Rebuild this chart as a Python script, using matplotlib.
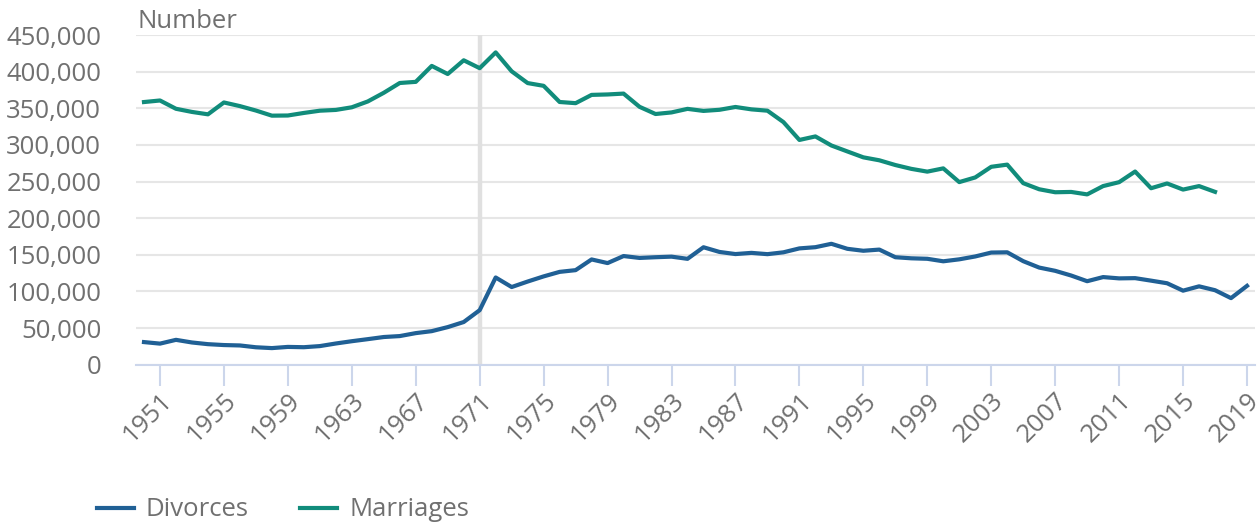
import matplotlib
matplotlib.use("Agg")
import matplotlib.pyplot as plt
import matplotlib.transforms as mtransforms
from matplotlib.ticker import FuncFormatter, FixedLocator
from matplotlib.lines import Line2D

plt.rcParams['font.family'] = ['Open Sans', 'DejaVu Sans']

years_div = list(range(1950, 2020))
divorces = [30870, 28767, 33922, 30326, 28027, 26816, 26265, 23785, 22654, 24286,
            23868, 25394, 28935, 32052, 34868, 37785, 39067, 43093, 45794, 51310,
            58239, 74437, 119025, 106003, 113500, 120522, 126694, 129053, 143667, 138706,
            148301, 145713, 146698, 147479, 144501, 160300, 153903, 151007, 152633, 150872,
            153386, 158745, 160385, 165018, 158175, 155499, 157107, 146689, 145214, 144556,
            141135, 143818, 147735, 153065, 153399, 141322, 132562, 128131, 121708, 113949,
            119589, 117813, 118140, 114720, 111169, 101055, 106959, 101669, 90871, 107599]

years_mar = list(range(1950, 2018))
marriages = [358490, 360624, 349308, 344997, 341731, 357918, 352944, 346903, 339913, 340126,
             343614, 346678, 347732, 351329, 359307, 371127, 384497, 386052, 407822, 396746,
             415487, 404737, 426241, 400435, 384389, 380620, 358567, 356954, 368258, 368853,
             370022, 351973, 342166, 344334, 349186, 346389, 347924, 351761, 348492, 346697,
             331150, 306756, 311564, 299197, 291069, 283012, 278975, 272536, 267303, 263515,
             267961, 249227, 255596, 270109, 273069, 247805, 239454, 235367, 235794, 232443,
             243808, 249133, 263640, 240854, 247372, 239020, 243792, 235910]

tick_years = list(range(1951, 2020, 4))
y_ticks = list(range(0, 450001, 50000))
highlight_year = 1971

div_color = "#206095"
mar_color = "#118c7b"
text_color = "#707070"
FS = 18.5

W, H = 1257, 526
fig = plt.figure(figsize=(W / 100, H / 100), dpi=100)
ax = fig.add_axes([136 / W, 1 - 364.7 / H, (1255 - 136) / W, (364.7 - 35) / H])

ax.axvline(highlight_year, color="#e0e0e0", lw=3.2, zorder=1)
ax.plot(years_div, divorces, color=div_color, lw=3.0, zorder=3, solid_joinstyle="round")
ax.plot(years_mar, marriages, color=mar_color, lw=3.0, zorder=3, solid_joinstyle="round")

ax.set_xlim(1949.5, 2019.5)
ax.set_ylim(0, 450000)
ax.yaxis.set_major_locator(FixedLocator(y_ticks))
ax.yaxis.set_major_formatter(FuncFormatter(lambda v, p: f"{int(v):,}"))
ax.set_xticks(tick_years)
ax.set_xticklabels([str(y) for y in tick_years], rotation=45, ha="right",
                   rotation_mode="anchor")
offset = mtransforms.ScaledTranslation(-6 / 100, 0, fig.dpi_scale_trans)
for lab in ax.get_xticklabels():
    lab.set_transform(lab.get_transform() + offset)

ax.grid(axis="y", color="#e6e6e6", lw=1.5, zorder=0)
ax.set_axisbelow(True)
for s in ["top", "right", "left"]:
    ax.spines[s].set_visible(False)
ax.spines["bottom"].set_color("#ccd6eb")
ax.spines["bottom"].set_linewidth(1.5)
ax.spines["bottom"].set_zorder(4)

ax.tick_params(axis="y", length=0, pad=25, labelsize=FS, labelcolor=text_color)
ax.tick_params(axis="x", length=15, width=1.5, color="#ccd6eb", pad=2,
               labelsize=FS, labelcolor=text_color)

fig.text(137 / W, 1 - 21 / H, "Number", ha="left", va="center",
         fontsize=FS, color=text_color)

handles = [Line2D([], [], color=div_color, lw=3.0),
           Line2D([], [], color=mar_color, lw=3.0)]
fig.legend(handles, ["Divorces", "Marriages"], loc="center left",
           bbox_to_anchor=(97 / W, 1 - 510 / H), ncol=2, frameon=False,
           fontsize=FS, labelcolor=text_color, handlelength=1.45,
           handletextpad=0.45, columnspacing=2.0, borderpad=0, borderaxespad=0)

fig.savefig("out.png", dpi=100)
